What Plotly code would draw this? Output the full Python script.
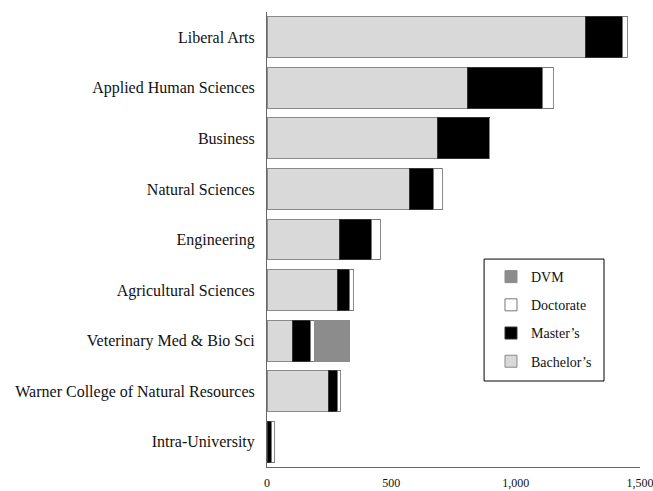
import plotly.graph_objects as go

colleges = ["Liberal Arts", "Applied Human Sciences", "Business", "Natural Sciences",
            "Engineering", "Agricultural Sciences", "Veterinary Med & Bio Sci",
            "Warner College of Natural Resources", "Intra-University"]
bachelors = [1281, 805, 687, 573, 290, 284, 104, 249, 0]
masters = [148, 304, 206, 95, 131, 49, 69, 36, 19]
doctorate = [20, 43, 0, 39, 35, 15, 18, 12, 12]
dvm = [0, 0, 0, 0, 0, 0, 142, 0, 0]
x_ticks = [0, 500, 1000, 1500]
x_tick_labels = ["0", "500", "1,000", "1,500"]

font = "Liberation Serif"
fig = go.Figure()
series = [
    ("Bachelor\u2019s", bachelors, "#d9d9d9", "#8a8a8a", 4),
    ("Master\u2019s", masters, "#000000", "#333333", 3),
    ("Doctorate", doctorate, "#ffffff", "#777777", 2),
    ("DVM", dvm, "#8c8c8c", "#8c8c8c", 1),
]
for name, vals, col, lc, rank in series:
    fig.add_trace(go.Bar(y=colleges, x=vals, name=name, orientation="h",
                         legendgroup=name, legendrank=rank,
                         marker=dict(color=col, line=dict(color=lc, width=1))))

fig.add_shape(type="rect", xref="paper", yref="paper",
              x0=0.582, x1=0.9035, y0=0.189, y1=0.457,
              line=dict(color="#000000", width=1), fillcolor="rgba(0,0,0,0)")

fig.update_layout(
    barmode="stack", bargap=0.19,
    width=653, height=491,
    margin=dict(l=267, r=13, t=12, b=24),
    paper_bgcolor="white", plot_bgcolor="white",
    font=dict(family=font, size=16, color="#111111"),
    showlegend=True,
    legend=dict(traceorder="grouped", tracegroupgap=7,
                x=0.6005, y=0.4527, xanchor="left", yanchor="top",
                borderwidth=0, bgcolor="rgba(0,0,0,0)",
                font=dict(family=font, size=14)),
    xaxis=dict(range=[0, 1500], tickvals=x_ticks, ticktext=x_tick_labels,
               showgrid=False, zeroline=False, showline=True, linecolor="#666666",
               linewidth=1, ticks="", ticklabelstandoff=5, tickfont=dict(size=12),
               ticklabeloverflow="allow", automargin=False, fixedrange=True),
    yaxis=dict(autorange="reversed", showgrid=False, showline=True, linecolor="#666666",
               linewidth=1, ticks="", ticklabelstandoff=8, tickfont=dict(size=16),
               automargin=False),
)
fig.write_html("out.html", config={"displayModeBar": False},
               post_script="document.body.style.margin='0';document.body.style.overflow='hidden';")
